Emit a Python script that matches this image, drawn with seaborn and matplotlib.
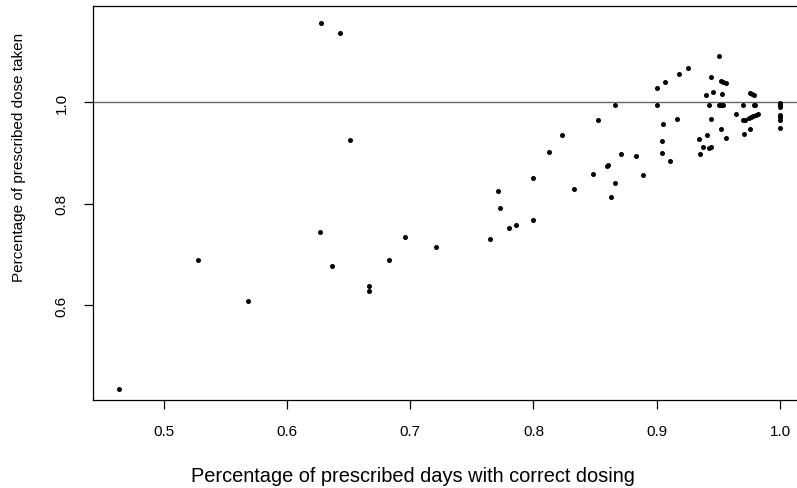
import matplotlib
matplotlib.use("Agg")
import matplotlib.pyplot as plt
import seaborn as sns
import pandas as pd

# Percentage of prescribed days with correct dosing
days_correct = [
    0.4637, 0.5280, 0.5685, 0.6267, 0.6280, 0.6364, 0.6429, 0.6513, 0.6669, 0.6669,
    0.6829, 0.6956, 0.7208, 0.7648, 0.7713, 0.7727, 0.7805, 0.7856, 0.7999, 0.7999,
    0.8124, 0.8234, 0.8332, 0.8483, 0.8526, 0.8594, 0.8603, 0.8632, 0.8664, 0.8664,
    0.8708, 0.8830, 0.8889, 0.9000, 0.9000, 0.9043, 0.9045, 0.9054, 0.9067, 0.9108,
    0.9165, 0.9181, 0.9256, 0.9343, 0.9351, 0.9373, 0.9397, 0.9408, 0.9424, 0.9424,
    0.9440, 0.9440, 0.9443, 0.9457, 0.9508, 0.9508, 0.9522, 0.9535, 0.9522, 0.9540,
    0.9562, 0.9532, 0.9522, 0.9562, 0.9641, 0.9702, 0.9702, 0.9716, 0.9710, 0.9746,
    0.9757, 0.9773, 0.9792, 0.9759, 0.9765, 0.9783, 0.9787, 0.9800, 0.9803, 0.9824,
    1.0000, 1.0000, 1.0000, 1.0000, 1.0000, 1.0000, 1.0000,
]
# Percentage of prescribed dose taken
dose_taken = [
    0.4343, 0.6897, 0.6085, 0.7432, 1.1570, 0.6778, 1.1372, 0.9253, 0.6382, 0.6283,
    0.6897, 0.7333, 0.7154, 0.7293, 0.8244, 0.7907, 0.7511, 0.7570, 0.8501, 0.7669,
    0.9016, 0.9352, 0.8283, 0.8580, 0.9649, 0.8733, 0.8772, 0.8125, 0.8402, 0.9947,
    0.8976, 0.8937, 0.8560, 1.0283, 0.9947, 0.9234, 0.8996, 0.9570, 1.0402, 0.8838,
    0.9669, 1.0560, 1.0679, 0.9283, 0.8976, 0.9115, 1.0145, 0.9358, 0.9947, 0.9095,
    0.9115, 1.0501, 0.9669, 1.0204, 1.0917, 0.9947, 0.9947, 0.9947, 1.0422, 1.0402,
    1.0382, 1.0164, 0.9471, 0.9293, 0.9768, 0.9947, 0.9644, 0.9655, 0.9372, 0.9689,
    1.0184, 1.0164, 1.0145, 0.9471, 0.9709, 0.9729, 0.9947, 0.9947, 0.9749, 0.9774,
    0.9990, 0.9950, 0.9910, 0.9750, 0.9700, 0.9650, 0.9490,
]
x_ticks = [0.5, 0.6, 0.7, 0.8, 0.9, 1.0]
y_ticks = [0.6, 0.8, 1.0]
x_label = "Percentage of prescribed days with correct dosing"
y_label = "Percentage of prescribed dose taken"

df = pd.DataFrame({"days": days_correct, "dose": dose_taken})

sns.set_theme(style="ticks")
plt.rcParams["font.family"] = ["Liberation Sans", "DejaVu Sans"]

W, H = 797, 489
fig = plt.figure(figsize=(W / 100, H / 100), dpi=100)
left, right, top, bottom = 93, 808, 7, 401
ax = fig.add_axes([left / W, (H - bottom) / H, (right - left) / W, (bottom - top) / H])

sns.scatterplot(data=df, x="days", y="dose", ax=ax, color="black",
                s=13, linewidth=0, legend=False, zorder=3)
ax.axhline(1.0, color="#666666", lw=1.0, zorder=2)

ax.set_xlim(0.4428, 1.0226)
ax.set_ylim(0.4125, 1.190)
ax.set_xticks(x_ticks)
ax.set_xticklabels([f"{v:.1f}" for v in x_ticks])
ax.set_yticks(y_ticks)
ax.set_yticklabels([f"{v:.1f}" for v in y_ticks], rotation=90, va="center")
ax.set_xlabel("")
ax.set_ylabel("")

for sp in ax.spines.values():
    sp.set_visible(True)
    sp.set_color("black")
    sp.set_linewidth(0.9)

ax.tick_params(axis="both", direction="out", length=6.5, width=0.9,
               color="black", labelsize=11, labelcolor="black")
ax.tick_params(axis="x", pad=11)
ax.tick_params(axis="y", pad=11)

fig.text(413 / W, (H - 482) / H, x_label, ha="center", va="baseline",
         fontsize=14.4, color="black")
fig.text(19 / W, (H - 157) / H, y_label, ha="center", va="center",
         rotation=90, fontsize=11, color="black")

fig.savefig("out.png", dpi=100)
